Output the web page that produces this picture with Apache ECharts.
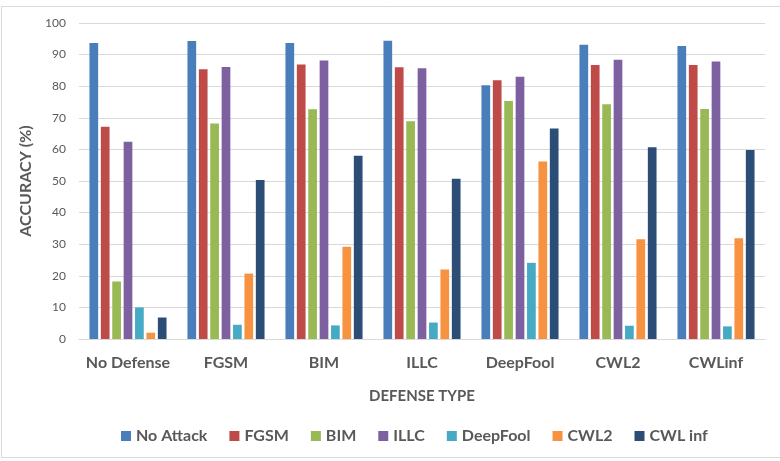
<!DOCTYPE html>
<html>
<head>
<meta charset="utf-8">
<script src="https://cdn.jsdelivr.net/npm/echarts@6/dist/echarts.min.js"></script>
<style>
  html, body { margin: 0; padding: 0; background: #fff; }
  #main { width: 780px; height: 461px; }
</style>
</head>
<body>
<div id="main"></div>
<script>
// defense types on the x axis
var defenses = ['No Defense', 'FGSM', 'BIM', 'ILLC', 'DeepFool', 'CWL2', 'CWLinf'];

// accuracy (%) under each attack
var noAttack = [93.7, 94.3, 93.7, 94.4, 80.3, 93.1, 92.7];
var fgsm     = [67.2, 85.4, 86.9, 86.0, 81.9, 86.7, 86.7];
var bim      = [18.2, 68.2, 72.7, 68.9, 75.3, 74.3, 72.8];
var illc     = [62.4, 86.1, 88.1, 85.7, 83.0, 88.4, 87.8];
var deepFool = [10.0, 4.5, 4.3, 5.2, 24.1, 4.2, 4.0];
var cwl2     = [2.0, 20.7, 29.2, 22.0, 56.2, 31.6, 31.9];
var cwlInf   = [6.8, 50.3, 58.0, 50.7, 66.6, 60.7, 59.8];

var attackNames = ['No Attack', 'FGSM', 'BIM', 'ILLC', 'DeepFool', 'CWL2', 'CWL inf'];
var attackData = [noAttack, fgsm, bim, illc, deepFool, cwl2, cwlInf];
var colors = ['#4a7ebb', '#be4b48', '#98b954', '#7d60a0', '#46aac5', '#f69240', '#2c4d75'];

var chart = echarts.init(document.getElementById('main'));

var series = attackNames.map(function (name, i) {
    return {
        name: name,
        type: 'bar',
        data: attackData[i],
        barWidth: 8.7,
        barGap: '31%',
        itemStyle: { color: colors[i] }
    };
});

var option = {
    backgroundColor: '#fff',
    animation: false,
    textStyle: { fontFamily: 'Lato' },
    color: colors,
    //外框
    graphic: [{
        type: 'rect',
        shape: { x: 1.5, y: 6.5, width: 800, height: 451 },
        style: { fill: 'none', stroke: '#d9d9d9', lineWidth: 1 },
        silent: true
    }],
    grid: { left: 79, right: 15, top: 23, bottom: 122 },
    legend: {
        left: 116,
        top: 423,
        itemWidth: 10,
        itemHeight: 10,
        itemGap: 22,
        icon: 'rect',
        textStyle: { color: '#595959', fontSize: 16, fontWeight: 'bold', fontFamily: 'Lato' },
        data: attackNames
    },
    xAxis: {
        type: 'category',
        data: defenses,
        name: 'DEFENSE TYPE',
        nameLocation: 'middle',
        nameGap: 50,
        nameTextStyle: { color: '#595959', fontSize: 15, fontWeight: 'bold', fontFamily: 'Lato' },
        axisLine: { lineStyle: { color: '#d9d9d9' } },
        axisTick: { show: false },
        axisLabel: { color: '#595959', fontSize: 16, fontWeight: 'bold', margin: 16, interval: 0 }
    },
    yAxis: {
        type: 'value',
        min: 0,
        max: 100,
        interval: 10,
        name: 'ACCURACY (%)',
        nameLocation: 'middle',
        nameGap: 41,
        nameTextStyle: { color: '#595959', fontSize: 16, fontWeight: 'bold', fontFamily: 'Lato' },
        axisLine: { show: false },
        axisTick: { show: false },
        axisLabel: { color: '#595959', fontSize: 12, margin: 13 },
        splitLine: { lineStyle: { color: '#d9d9d9', width: 1 } }
    },
    series: series
};

chart.setOption(option);
</script>
</body>
</html>
